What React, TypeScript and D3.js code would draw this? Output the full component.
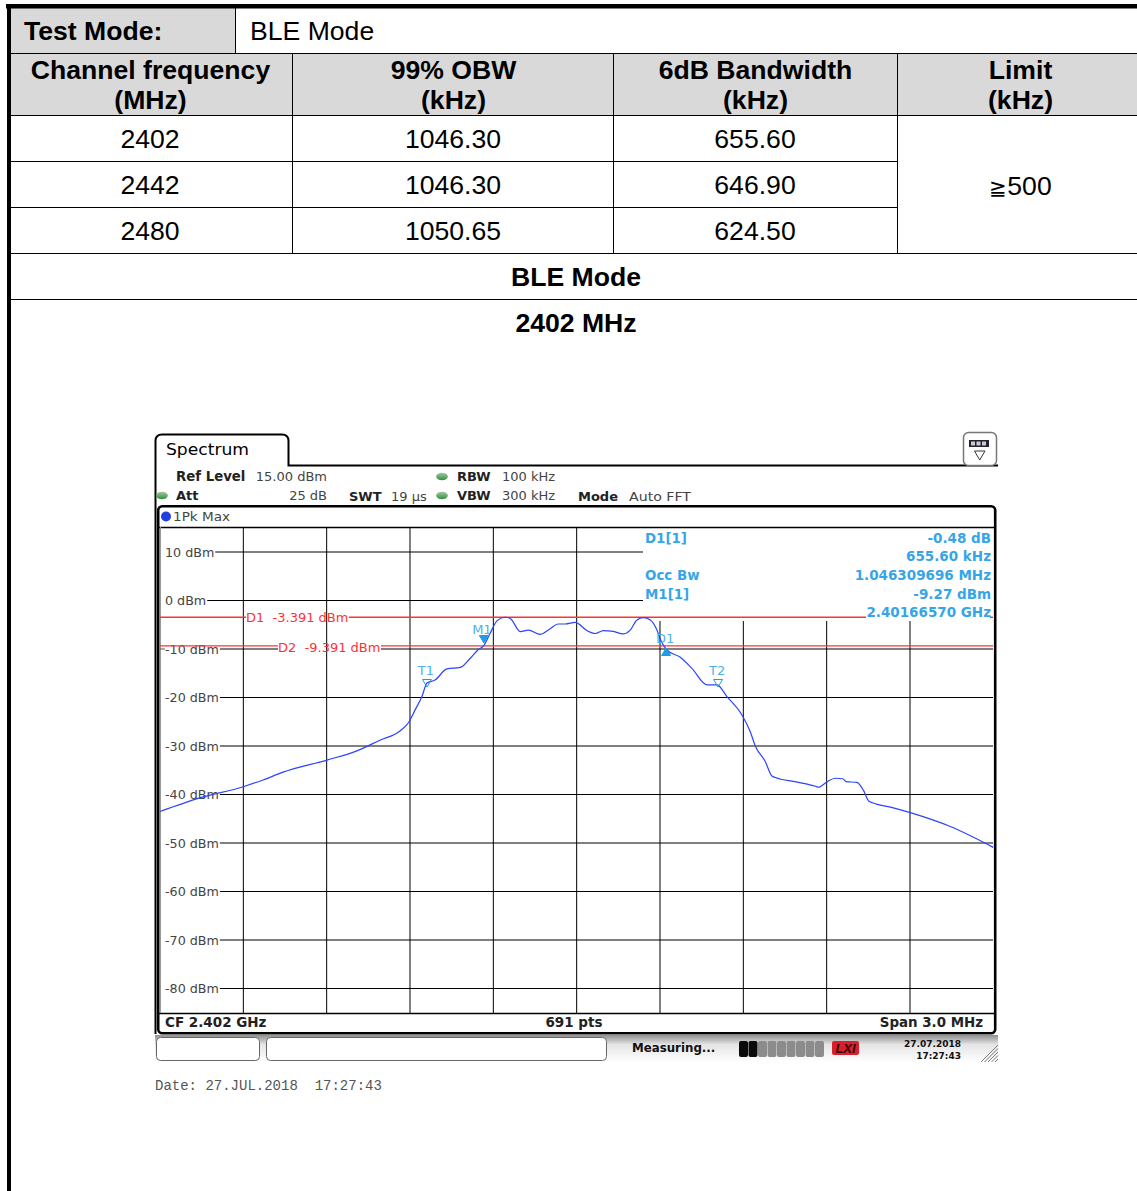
import { useEffect, useRef } from 'react';
import * as d3 from 'd3';

const channels = ['2402', '2442', '2480'];
const obwKhz = ['1046.30', '1046.30', '1050.65'];
const bw6dbKhz = ['655.60', '646.90', '624.50'];
const dbmTicks = [10, 0, -10, -20, -30, -40, -50, -60, -70, -80];
const offsetTicks = [-1.2, -0.9, -0.6, -0.3, 0, 0.3, 0.6, 0.9, 1.2];

// trace: offset from CF in MHz, level in dBm
const traceOffset = [
  -1.5, -1.356, -1.2, -1.129, -1.057, -0.899, -0.791, -0.708, -0.636, -0.603, -0.582, -0.557,
  -0.539, -0.51, -0.467, -0.419, -0.383, -0.354, -0.336, -0.311, -0.287, -0.257, -0.239, -0.203,
  -0.174, -0.131, -0.102, -0.066, -0.041, -0.005, 0.037, 0.067, 0.096, 0.132, 0.166, 0.193,
  0.217, 0.24, 0.265, 0.289, 0.301, 0.325, 0.373, 0.415, 0.469, 0.505, 0.541, 0.595,
  0.625, 0.643, 0.679, 0.703, 0.715, 0.79, 0.86, 0.871, 0.901, 0.931, 0.958, 0.97, 1.009, 1.032, 1.051,
  1.065, 1.13, 1.201, 1.345, 1.5,
];
const traceDbm = [
  -43.5, -40.7, -38.4, -37.0, -35.4, -32.9, -31.0, -28.8, -26.9, -25.0, -22.6, -19.8,
  -17.0, -16.4, -14.1, -13.8, -11.9, -10.1, -9.4, -6.7, -4.2, -3.45, -3.7, -6.4,
  -6.1, -7.0, -6.1, -4.85, -4.85, -4.5, -6.2, -6.8, -6.2, -6.35, -6.9, -6.1,
  -4.0, -3.55, -4.0, -6.1, -8.0, -10.2, -11.7, -14.0, -17.4, -17.4, -19.8, -23.6,
  -27.05, -30.0, -33.2, -36.2, -36.5, -37.4, -38.3, -38.5, -37.4, -36.65, -36.75, -37.35, -37.5, -39.1, -41.3,
  -41.7, -42.6, -43.75, -46.6, -50.9,
];

const markers = [
  { name: 'M1', offset: -0.334, filled: true, up: false },
  { name: 'T1', offset: -0.539, filled: false, up: false },
  { name: 'T2', offset: 0.509, filled: false, up: false },
  { name: 'D1', offset: 0.322, filled: true, up: true },
];

const sans = '"Liberation Sans", Arial, sans-serif';
const screen = '"DejaVu Sans", Verdana, sans-serif';
const BLUE = '#1f9ce4';
const RED = '#ff3232';
const BIG = 26.6;

export default function App() {
  const svgRef = useRef<SVGSVGElement>(null);

  useEffect(() => {
    if (!svgRef.current) return;
    const svg = d3.select(svgRef.current);
    svg.selectAll('*').remove();

    const x = d3.scaleLinear().domain([-1.5, 1.5]).range([160, 993.33]);
    const y = d3.scaleLinear().domain([10, -80]).range([552, 988.5]);

    const text = (
      t: string, tx: number, ty: number, size: number,
      opts: { bold?: boolean; anchor?: string; fill?: string; font?: string } = {},
    ) =>
      svg.append('text')
        .attr('x', tx)
        .attr('y', ty)
        .attr('font-size', size)
        .attr('font-family', opts.font ?? sans)
        .attr('font-weight', opts.bold ? 'bold' : 'normal')
        .attr('text-anchor', opts.anchor ?? 'start')
        .attr('fill', opts.fill ?? '#000')
        .style('white-space', 'pre')
        .text(t);

    const hline = (x1: number, x2: number, ly: number, color = '#000', w = 1) =>
      svg.append('line').attr('x1', x1).attr('x2', x2).attr('y1', ly).attr('y2', ly)
        .attr('stroke', color).attr('stroke-width', w);
    const vline = (lx: number, y1: number, y2: number, color = '#000', w = 1) =>
      svg.append('line').attr('x1', lx).attr('x2', lx).attr('y1', y1).attr('y2', y2)
        .attr('stroke', color).attr('stroke-width', w);

    const defs = svg.append('defs');
    const led = defs.append('linearGradient').attr('id', 'led').attr('x2', 0).attr('y2', 1);
    led.append('stop').attr('offset', 0).attr('stop-color', '#a5c8a5');
    led.append('stop').attr('offset', 1).attr('stop-color', '#2f8f3a');
    const bar = defs.append('linearGradient').attr('id', 'bar').attr('x2', 0).attr('y2', 1);
    bar.append('stop').attr('offset', 0).attr('stop-color', '#8f8f8f');
    bar.append('stop').attr('offset', 0.35).attr('stop-color', '#e4e4e4');
    bar.append('stop').attr('offset', 1).attr('stop-color', '#ffffff');

    // ---- table ----
    svg.append('rect').attr('x', 10).attr('y', 8).attr('width', 225).attr('height', 45).attr('fill', '#d9d9d9');
    svg.append('rect').attr('x', 10).attr('y', 54).attr('width', 1127).attr('height', 61).attr('fill', '#d9d9d9');

    [53.5, 115.5, 253.5, 299.5].forEach(ly => hline(10, 1137, ly));
    [161.5, 207.5].forEach(ly => hline(10, 897, ly));
    vline(235.5, 8, 53);
    [292.5, 613.5, 897.5].forEach(lx => vline(lx, 54, 253));
    hline(6, 1137, 6.2, '#000', 4.4);
    vline(9, 4, 1191, '#000', 4);

    text('Test Mode:', 24, 40, BIG, { bold: true });
    text('BLE Mode', 250, 40, BIG);

    const colX = [150, 453, 755, 1020];
    const head = [['Channel frequency', '(MHz)'], ['99% OBW', '(kHz)'], ['6dB Bandwidth', '(kHz)'], ['Limit', '(kHz)']];
    head.forEach((h, i) => {
      text(h[0], colX[i] + 0.5, 79, BIG, { bold: true, anchor: 'middle' });
      text(h[1], colX[i] + 0.5, 109, BIG, { bold: true, anchor: 'middle' });
    });
    channels.forEach((c, i) => {
      const ty = 148 + i * 46;
      text(c, colX[0], ty, BIG, { anchor: 'middle' });
      text(obwKhz[i], colX[1], ty, BIG, { anchor: 'middle' });
      text(bw6dbKhz[i], colX[2], ty, BIG, { anchor: 'middle' });
    });
    // limit cell: the sign is a narrower glyph than the digits, kept in one text element
    const limit = text('', colX[3] + 0.5, 195, BIG, { anchor: 'middle' });
    limit.append('tspan').attr('font-size', 20.5).text('≧');
    limit.append('tspan').text('500');
    text('BLE Mode', 576, 286, BIG, { bold: true, anchor: 'middle' });
    text('2402 MHz', 576, 332, BIG, { bold: true, anchor: 'middle' });

    // ---- instrument frame ----
    svg.append('path')
      .attr('d', 'M155.5,1034 L155.5,441 Q155.5,434.5 162,434.5 L282,434.5 Q288.5,434.5 288.5,441 L288.5,465.5 L998,465.5')
      .attr('fill', 'none').attr('stroke', '#000').attr('stroke-width', 2);
    text('Spectrum', 166, 455, 15.5, { font: screen }).attr('textLength', 83).attr('lengthAdjust', 'spacingAndGlyphs');

    // softkey icon, top right
    svg.append('rect').attr('x', 963.5).attr('y', 432.5).attr('width', 33).attr('height', 33).attr('rx', 5)
      .attr('fill', '#fff').attr('stroke', '#777').attr('stroke-width', 1.5);
    svg.append('rect').attr('x', 969).attr('y', 440).attr('width', 20).attr('height', 7).attr('fill', '#223');
    [971, 976.5, 982].forEach(bx =>
      svg.append('rect').attr('x', bx).attr('y', 441.5).attr('width', 4).attr('height', 4).attr('fill', '#ccc'));
    svg.append('path').attr('d', 'M974.5,451 L985,451 L979.7,460 Z').attr('fill', '#fff').attr('stroke', '#333');

    const leds: [number, number][] = [[442, 476.5], [442, 495.5], [162, 495.5]];
    leds.forEach(([cx, cy]) =>
      svg.append('ellipse').attr('cx', cx).attr('cy', cy).attr('rx', 5.8).attr('ry', 3.8).attr('fill', 'url(#led)'));

    const grey = '#444';
    text('Ref Level', 176, 481, 13.3, { bold: true, font: screen, fill: '#222' });
    text('15.00 dBm', 327, 481, 13, { anchor: 'end', font: screen, fill: grey });
    text('Att', 176, 500, 13, { bold: true, font: screen, fill: '#222' });
    text('25 dB', 327, 500, 13, { anchor: 'end', font: screen, fill: grey });
    text('SWT', 349, 501, 13, { bold: true, font: screen, fill: '#222' });
    text('19 µs', 391, 501, 13, { font: screen, fill: grey });
    text('RBW', 457, 481, 13, { bold: true, font: screen, fill: '#222' });
    text('100 kHz', 502, 481, 13, { font: screen, fill: grey });
    text('VBW', 457, 500, 13, { bold: true, font: screen, fill: '#222' });
    text('300 kHz', 502, 500, 13, { font: screen, fill: grey });
    text('Mode', 578, 501, 13, { bold: true, font: screen, fill: '#222' });
    text('Auto FFT', 629, 501, 13, { font: screen, fill: grey }).attr('textLength', 62).attr('lengthAdjust', 'spacingAndGlyphs');

    svg.append('rect').attr('x', 158.2).attr('y', 506.2).attr('width', 837).attr('height', 527).attr('rx', 4)
      .attr('fill', 'none').attr('stroke', '#000').attr('stroke-width', 2.6);
    hline(158, 995, 527.5, '#000', 1.3);
    hline(158, 995, 1013.5, '#000', 1.3);
    svg.append('circle').attr('cx', 166).attr('cy', 516.5).attr('r', 5).attr('fill', '#1f3fe0');
    text('1Pk Max', 173, 521, 13, { font: screen, fill: grey }).attr('textLength', 57).attr('lengthAdjust', 'spacingAndGlyphs');
    vline(160.5, 527, 1013, '#999', 1);

    // ---- grid ----
    offsetTicks.forEach(o => vline(x(o), o > 0 ? 621 : 528, 1013));

    dbmTicks.forEach(d => {
      const label = text(`${d} dBm`, 165, y(d) + 4.5, 12.7, { font: screen, fill: grey });
      const w = (label.node() as SVGTextElement).getComputedTextLength();
      if (d === -10) {
        // D2 label sits on this gridline
        hline(165 + w + 1, 278, y(d));
        hline(381, 993, y(d));
      } else {
        hline(165 + w + 1, d >= 0 ? 643 : 993, y(d));
      }
    });
    // the thin stub of -10 dBm left of its label
    hline(160, 165, y(-10), '#555');

    // display lines, broken by their labels
    const d1 = 617.3;
    const d2 = 645.9;
    hline(160, 246, d1, RED, 1.4);
    hline(349, 866, d1, RED, 1.4);
    hline(990, 993, d1, RED, 1.4);
    text('D1  -3.391 dBm', 246, y(-3.391) + 5.5, 13, { font: screen, fill: RED });
    hline(160, 278, d2, RED, 1.4);
    hline(381, 993, d2, RED, 1.4);
    text('D2  -9.391 dBm', 278, y(-9.391) + 5.5, 13, { font: screen, fill: RED });

    // ---- trace ----
    const line = d3.line<number>()
      .x(o => x(o))
      .y((_, i) => y(traceDbm[i]))
      .curve(d3.curveMonotoneX);
    svg.append('path')
      .datum(traceOffset)
      .attr('d', line)
      .attr('fill', 'none')
      .attr('stroke', '#2a44ff')
      .attr('stroke-width', 1.2);

    // ---- markers ----
    markers.forEach(m => {
      const mx = x(m.offset);
      const my = m.name === 'M1' ? 639 : m.name === 'D1' ? 652 : 683;
      const d = m.up
        ? `M${mx - 4.5},${my + 3.5} L${mx + 4.5},${my + 3.5} L${mx},${my - 4} Z`
        : `M${mx - 4.5},${my - 3.5} L${mx + 4.5},${my - 3.5} L${mx},${my + 4} Z`;
      svg.append('path').attr('d', d)
        .attr('fill', m.filled ? BLUE : 'none')
        .attr('stroke', BLUE);
      const labelY = m.name === 'M1' ? 634 : m.name === 'D1' ? 643 : 675;
      text(m.name, mx - (m.name === 'D1' ? 1 : m.name === 'M1' ? 2 : 1), labelY, 13, { anchor: 'middle', font: screen, fill: '#4fb2ea' });
    });

    // marker table
    const tblLeft: [string, number][] = [['D1[1]', 543], ['Occ Bw', 580], ['M1[1]', 599]];
    tblLeft.forEach(([t, ty]) => text(t, 645, ty, 13.4, { bold: true, font: screen, fill: BLUE }).attr('opacity', 0.9));
    const tblRight: [string, number][] = [
      ['-0.48 dB', 543], ['655.60 kHz', 561], ['1.046309696 MHz', 580], ['-9.27 dBm', 599], ['2.40166570 GHz', 617],
    ];
    tblRight.forEach(([t, ty]) => text(t, 991, ty, 13.5, { bold: true, anchor: 'end', font: screen, fill: BLUE }).attr('opacity', 0.9));

    // ---- footer ----
    text('CF 2.402 GHz', 165, 1027, 13.5, { bold: true, font: screen, fill: '#222' });
    text('691 pts', 574, 1027, 13.5, { bold: true, anchor: 'middle', font: screen, fill: '#222' });
    text('Span 3.0 MHz', 983, 1027, 13.4, { bold: true, anchor: 'end', font: screen, fill: '#222' });

    svg.append('rect').attr('x', 155).attr('y', 1035).attr('width', 843).attr('height', 27).attr('fill', 'url(#bar)');
    const buttons: [number, number][] = [[156.5, 103], [266.5, 340]];
    buttons.forEach(([bx, bw]) =>
      svg.append('rect').attr('x', bx).attr('y', 1037.5).attr('width', bw).attr('height', 23).attr('rx', 4)
        .attr('fill', '#fff').attr('stroke', '#666'));
    text('Measuring...', 632, 1052, 11.8, { bold: true, font: screen, fill: '#111' });

    // progress bar segments
    d3.range(9).forEach(i =>
      svg.append('rect').attr('x', 739 + i * 9.5).attr('y', 1041).attr('width', 9).attr('height', 16).attr('rx', 2)
        .attr('fill', i < 2 ? '#0a0a0a' : '#8c8c8c'));
    svg.append('rect').attr('x', 832).attr('y', 1041).attr('width', 27).attr('height', 14).attr('rx', 2).attr('fill', '#d8202c');
    text('LXI', 845.5, 1053, 13, { bold: true, anchor: 'middle', font: sans, fill: '#300' }).attr('font-style', 'italic');

    text('27.07.2018', 961, 1047, 9, { bold: true, anchor: 'end', font: screen, fill: '#111' });
    text('17:27:43', 961, 1059, 9, { bold: true, anchor: 'end', font: screen, fill: '#111' });
    d3.range(5).forEach(i =>
      svg.append('line').attr('x1', 981 + i * 3.5).attr('y1', 1062).attr('x2', 998).attr('y2', 1045 + i * 3.5)
        .attr('stroke', '#777'));

    text('Date: 27.JUL.2018  17:27:43', 155, 1090, 14, { font: '"Liberation Mono", monospace', fill: '#555' });
  }, []);

  return (
    <svg
      ref={svgRef}
      width={1137}
      height={1191}
      style={{ position: 'absolute', left: 0, top: 0, display: 'block', background: '#fff' }}
    />
  );
}
